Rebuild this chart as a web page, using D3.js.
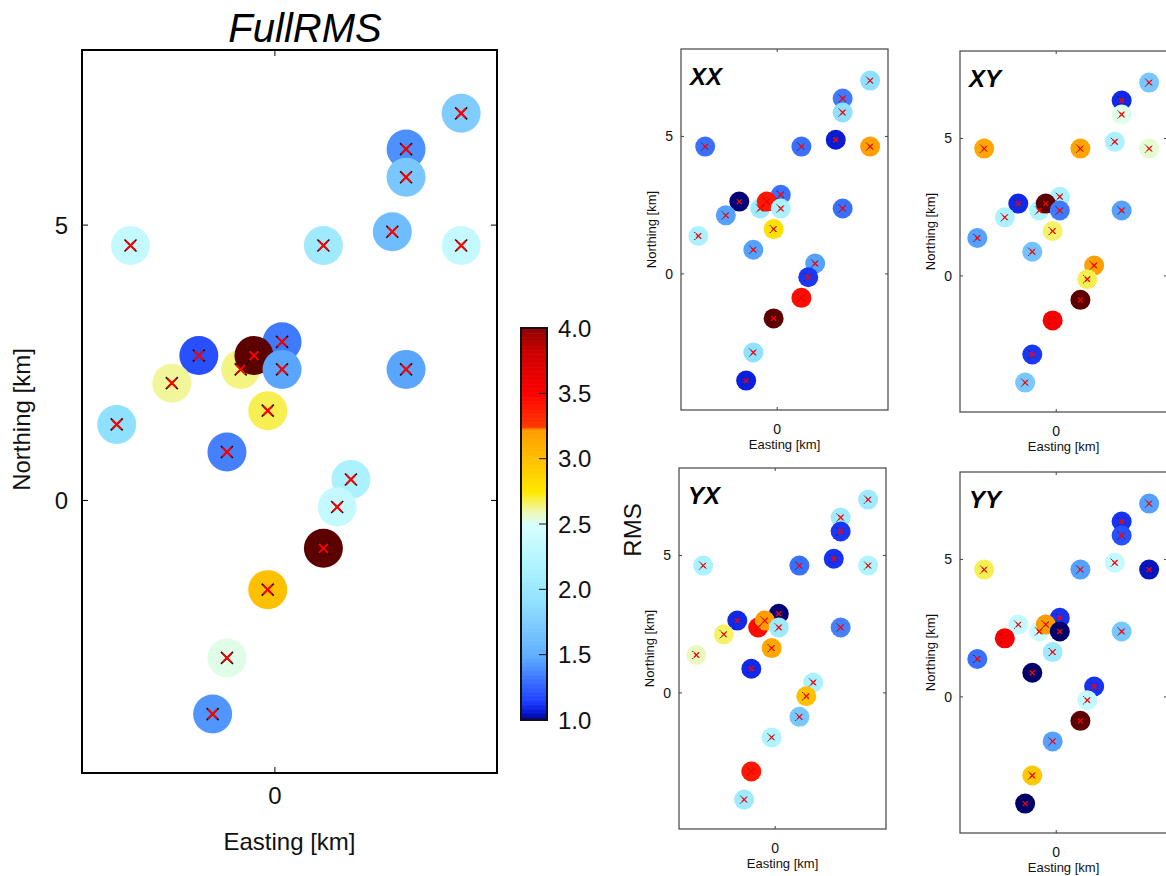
<!DOCTYPE html>
<html>
<head>
<meta charset="utf-8">
<script src="https://cdn.jsdelivr.net/npm/d3@7"></script>
<style>
  html, body { margin: 0; padding: 0; background: #fff; }
  svg { display: block; font-family: "Liberation Sans", Arial, sans-serif; }
</style>
</head>
<body>
<svg id="chart" width="1166" height="876"></svg>
<script>
// ---------- data (stations in draw order) ----------
const easting  = [3.38, 2.38, 2.38, 2.13, -2.62, 0.88, 3.38, 0.13, -1.38, -0.62, -0.38, 0.13, 2.38, -1.87, -0.13, -2.87, -0.87, 1.38, 1.13, 0.88, -0.13, -0.87, -1.13];
const northing = [7.03, 6.38, 5.87, 4.88, 4.63, 4.63, 4.63, 2.88, 2.63, 2.38, 2.63, 2.38, 2.38, 2.13, 1.63, 1.38, 0.88, 0.38, -0.12, -0.87, -1.62, -2.86, -3.88];

const rmsFull = [1.75, 1.4, 1.7, 1.62, 2.35, 2.05, 2.35, 1.33, 1.2, 2.64, 4.35, 1.47, 1.47, 2.62, 2.68, 1.9, 1.35, 2.15, 2.35, 4.35, 3.0, 2.53, 1.42];
const rmsXX   = [1.9, 1.33, 1.9, 1.07, 1.3, 1.3, 3.2, 1.3, 0.95, 2.05, 3.4, 2.15, 1.3, 1.45, 2.8, 2.15, 1.45, 1.45, 1.13, 3.45, 4.35, 1.9, 1.08];
const rmsXY   = [1.7, 1.1, 2.53, 2.15, 3.15, 3.17, 2.56, 2.15, 1.1, 2.2, 4.35, 1.33, 1.45, 2.15, 2.66, 1.45, 1.65, 3.2, 2.68, 4.35, 3.55, 1.13, 1.7];
const rmsYX   = [2.05, 2.05, 1.13, 1.12, 2.15, 1.3, 2.2, 0.95, 1.1, 3.45, 3.22, 2.05, 1.35, 2.66, 3.15, 2.58, 1.1, 2.15, 3.0, 1.7, 2.2, 3.4, 2.05];
const rmsYY   = [1.45, 1.12, 1.2, 2.35, 2.68, 1.45, 1.05, 1.12, 2.35, 2.4, 3.22, 0.92, 1.7, 3.55, 2.05, 1.3, 0.92, 1.12, 2.35, 4.35, 1.45, 2.95, 0.92];

const xTicks = [0];
const yTicks = [0, 5];
const cbTicks = [1.0, 1.5, 2.0, 2.5, 3.0, 3.5, 4.0];
const mainTitle = "FullRMS";
const subTitles = ["XX", "XY", "YX", "YY"];
const xDomain = [-3.5, 4.03];
const yDomain = [-4.95, 8.18];

// colormap stops
const cmapVals = [0.9, 1.0, 1.08, 1.15, 1.3, 1.5, 1.75, 1.9, 2.2, 2.5, 2.6, 2.75, 3.0, 3.23, 3.24, 3.5, 3.8, 4.0, 4.4];
const cmapCols = ["#000060", "#000090", "#0a20e0", "#2040ff", "#3a70ff", "#60b0ff", "#80ccff", "#90e0ff", "#b0f4ff", "#d8ffff", "#eef8b0", "#ffe800", "#ffc000", "#ff9a00", "#ff3c00", "#ff0000", "#d00000", "#900000", "#560000"];
const color = d3.scaleLinear().domain(cmapVals).range(cmapCols).clamp(true);

const svg = d3.select("#chart");
const stations = easting.map((e, i) => ({e, n: northing[i]}));

function panel(opt) {
  const {left, top, width, height, values, big, title} = opt;
  const x = d3.scaleLinear().domain(xDomain).range([left, left + width]);
  const y = d3.scaleLinear().domain(yDomain).range([top + height, top]);
  const g = svg.append("g");
  const r = big ? 19.5 : 10;
  const tickLen = big ? 6 : 3;
  const axisCol = big ? "#000" : "#444";

  // ticks (inside, all four sides)
  xTicks.forEach(t => {
    g.append("line").attr("x1", x(t)).attr("x2", x(t)).attr("y1", top).attr("y2", top + tickLen).attr("stroke", axisCol).attr("stroke-width", 1);
    g.append("line").attr("x1", x(t)).attr("x2", x(t)).attr("y1", top + height).attr("y2", top + height - tickLen).attr("stroke", axisCol).attr("stroke-width", 1);
  });
  yTicks.forEach(t => {
    g.append("line").attr("x1", left).attr("x2", left + tickLen).attr("y1", y(t)).attr("y2", y(t)).attr("stroke", axisCol).attr("stroke-width", 1);
    g.append("line").attr("x1", left + width).attr("x2", left + width - tickLen).attr("y1", y(t)).attr("y2", y(t)).attr("stroke", axisCol).attr("stroke-width", 1);
  });

  // circles
  g.selectAll("circle.st").data(stations).enter().append("circle")
    .attr("cx", d => x(d.e)).attr("cy", d => y(d.n)).attr("r", r)
    .attr("fill", (d, i) => color(values[i]));

  // markers: black x then red x
  const bx = big ? 6 : 4, rx = big ? 4.5 : 2.5;
  stations.forEach(d => {
    const cx = x(d.e), cy = y(d.n);
    const p = (s) => `M${cx - s},${cy - s}L${cx + s},${cy + s}M${cx - s},${cy + s}L${cx + s},${cy - s}`;
    g.append("path").attr("d", p(bx)).attr("stroke", "#111").attr("stroke-width", big ? 1.6 : 1).attr("fill", "none")
      .attr("stroke-dasharray", big ? null : "1.5,2.6");
    g.append("path").attr("d", p(rx)).attr("stroke", "#ff0000").attr("stroke-width", big ? 2 : 1.2).attr("fill", "none");
  });

  // frame
  g.append("rect").attr("x", left).attr("y", top).attr("width", width).attr("height", height)
    .attr("fill", "none").attr("stroke", axisCol).attr("stroke-width", big ? 2 : 1.2);

  const fs = big ? 24 : 14;
  const lfs = big ? 24 : 13;
  // tick labels
  xTicks.forEach(t => {
    g.append("text").attr("x", x(t)).attr("y", top + height + (big ? 31 : 24)).attr("text-anchor", "middle")
      .attr("font-size", fs).attr("fill", "#111").text(t);
  });
  yTicks.forEach(t => {
    g.append("text").attr("x", left - (big ? 14 : 8)).attr("y", y(t)).attr("dy", "0.36em").attr("text-anchor", "end")
      .attr("font-size", fs).attr("fill", "#111").text(t);
  });
  // axis labels
  g.append("text").attr("x", left + width / 2).attr("y", top + height + (big ? 77 : 39)).attr("text-anchor", "middle")
    .attr("font-size", lfs).attr("fill", "#111").text("Easting [km]");
  const ly = top + height / 2 + (big ? 8 : 0);
  const lx = big ? 30 : left - 25;
  g.append("text").attr("transform", `translate(${lx},${ly}) rotate(-90)`).attr("text-anchor", "middle")
    .attr("font-size", lfs).attr("fill", "#111").text("Northing [km]");

  if (big) {
    g.append("text").attr("x", 305).attr("y", 42).attr("text-anchor", "middle")
      .attr("font-size", 40).attr("font-style", "italic").attr("fill", "#000").text(title);
  } else {
    g.append("text").attr("x", left + 9).attr("y", top + 36)
      .attr("font-size", 24).attr("font-style", "italic").attr("font-weight", "bold").attr("fill", "#000").text(title);
  }
}

panel({left: 82, top: 50, width: 415, height: 723, values: rmsFull, big: true, title: mainTitle});
panel({left: 681, top: 49, width: 207, height: 361, values: rmsXX, big: false, title: subTitles[0]});
panel({left: 960, top: 51, width: 207, height: 361, values: rmsXY, big: false, title: subTitles[1]});
panel({left: 679, top: 468, width: 207, height: 361, values: rmsYX, big: false, title: subTitles[2]});
panel({left: 960, top: 472, width: 207, height: 361, values: rmsYY, big: false, title: subTitles[3]});

// ---------- colorbar ----------
const cbLeft = 521, cbWidth = 26, cbTop = 328, cbBottom = 720;
const cb = d3.scaleLinear().domain([1, 4]).range([cbBottom, cbTop]);
const cbSteps = d3.range(0, 300).map(i => 1 + i * 3 / 300);
const cg = svg.append("g");
cg.selectAll("rect.cb").data(cbSteps).enter().append("rect")
  .attr("x", cbLeft).attr("width", cbWidth)
  .attr("y", d => cb(d + 3 / 300)).attr("height", d => cb(d) - cb(d + 3 / 300) + 0.6)
  .attr("fill", d => color(d + 1.5 / 300));
cbTicks.slice(1, -1).forEach(t => {
  cg.append("line").attr("x1", cbLeft + cbWidth).attr("x2", cbLeft + cbWidth - 8)
    .attr("y1", cb(t)).attr("y2", cb(t)).attr("stroke", "#111").attr("stroke-width", 1);
});
cg.append("rect").attr("x", cbLeft).attr("y", cbTop).attr("width", cbWidth).attr("height", cbBottom - cbTop)
  .attr("fill", "none").attr("stroke", "#111").attr("stroke-width", 2);
cbTicks.forEach(t => {
  cg.append("text").attr("x", cbLeft + cbWidth + 11).attr("y", cb(t)).attr("dy", "0.36em")
    .attr("font-size", 24).attr("fill", "#111").text(t.toFixed(1));
});
cg.append("text").attr("transform", `translate(641,530) rotate(-90)`).attr("text-anchor", "middle")
  .attr("font-size", 24).attr("fill", "#111").text("RMS");
</script>
</body>
</html>
